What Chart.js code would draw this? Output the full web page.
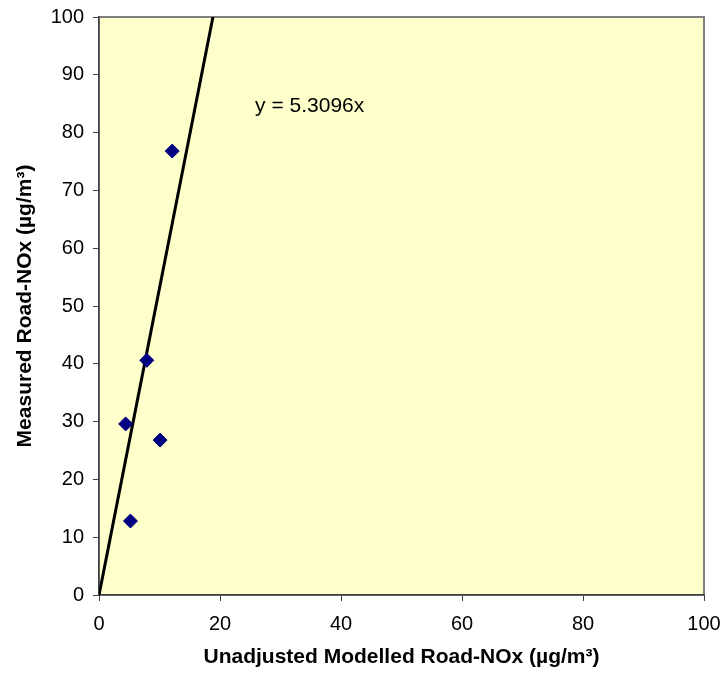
<!DOCTYPE html>
<html>
<head>
<meta charset="utf-8">
<script src="https://cdn.jsdelivr.net/npm/chart.js@4.4.1/dist/chart.umd.min.js"></script>
<style>
  html, body { margin: 0; padding: 0; background: #fff; }
  #wrap { width: 725px; height: 675px; }
</style>
</head>
<body>
<div id="wrap"><canvas id="nox"></canvas></div>
<script>
        // Measured vs unadjusted modelled road NOx
        const modelled = [4.4, 5.2, 7.9, 10.1, 12.1];
        const measured = [29.6, 12.8, 40.6, 26.8, 76.8];
        const slope = 5.3096;
        const axisTicks = [0, 10, 20, 30, 40, 50, 60, 70, 80, 90, 100];

        const points = modelled.map((x, i) => ({ x: x, y: measured[i] }));
        // trend line through origin, clipped at top of plot
        const trend = [{ x: 0, y: 0 }, { x: 100 / slope, y: 100 }];

        const tickFont = { family: 'Arial, "Liberation Sans", sans-serif', size: 20 };
        const titleFont = { family: 'Arial, "Liberation Sans", sans-serif', size: 21, weight: 'bold' };

        // pale yellow plot area with grey frame, plus the equation label
        const plotBg = {
            id: 'plotBg',
            beforeDraw(chart) {
                const a = chart.chartArea;
                const c = chart.ctx;
                c.save();
                c.fillStyle = '#FFFFCC';
                c.fillRect(a.left, a.top, a.right - a.left, a.bottom - a.top);
                c.strokeStyle = '#808080';
                c.lineWidth = 2;
                c.strokeRect(a.left, a.top, a.right - a.left, a.bottom - a.top);
                c.restore();
            },
            afterDatasetsDraw(chart) {
                const c = chart.ctx;
                const xs = chart.scales.x, ys = chart.scales.y;
                c.save();
                c.fillStyle = '#000';
                c.font = '21px Arial, "Liberation Sans", sans-serif';
                c.textBaseline = 'middle';
                c.fillText('y = ' + slope + 'x', xs.getPixelForValue(25.8), ys.getPixelForValue(84.5));
                c.restore();
            }
        };

        new Chart(document.getElementById('nox').getContext('2d'), {
            type: 'scatter',
            data: {
                datasets: [
                    {
                        label: 'Sites',
                        data: points,
                        pointStyle: 'rectRot',
                        pointRadius: 7,
                        pointBackgroundColor: '#000080',
                        pointBorderColor: '#000080',
                        order: 1
                    },
                    {
                        label: 'Trend',
                        data: trend,
                        showLine: true,
                        borderColor: '#000',
                        borderWidth: 3,
                        pointRadius: 0,
                        order: 2
                    }
                ]
            },
            options: {
                responsive: true,
                maintainAspectRatio: false,
                animation: false,
                layout: { padding: { top: 17, right: 21, left: 0, bottom: 0 } },
                plugins: {
                    legend: { display: false },
                    tooltip: { enabled: false }
                },
                scales: {
                    x: {
                        type: 'linear',
                        min: 0,
                        max: 100,
                        afterBuildTicks: (s) => { s.ticks = axisTicks.filter(v => v % 20 === 0).map(v => ({ value: v })); },
                        afterFit: (s) => { s.height = 80; s.paddingRight = 0; s.paddingLeft = 0; },
                        grid: { drawOnChartArea: false, tickLength: 6, color: '#404040' },
                        border: { color: '#404040', width: 1.5 },
                        ticks: { font: tickFont, color: '#000', padding: 11, maxRotation: 0 },
                        title: { display: true, text: 'Unadjusted Modelled Road-NOx (µg/m³)', font: titleFont, color: '#000', padding: { top: 0, bottom: 5 } }
                    },
                    y: {
                        type: 'linear',
                        min: 0,
                        max: 100,
                        afterBuildTicks: (s) => { s.ticks = axisTicks.map(v => ({ value: v })); },
                        afterFit: (s) => { s.width = 99; s.paddingTop = 0; s.paddingBottom = 0; },
                        grid: { drawOnChartArea: false, tickLength: 6, color: '#404040' },
                        border: { color: '#404040', width: 1.5 },
                        ticks: { font: tickFont, color: '#000', padding: 9 },
                        title: { display: true, text: 'Measured Road-NOx (µg/m³)', font: titleFont, color: '#000', padding: { top: 13, bottom: 0 } }
                    }
                }
            },
            plugins: [plotBg]
        });
</script>
</body>
</html>
